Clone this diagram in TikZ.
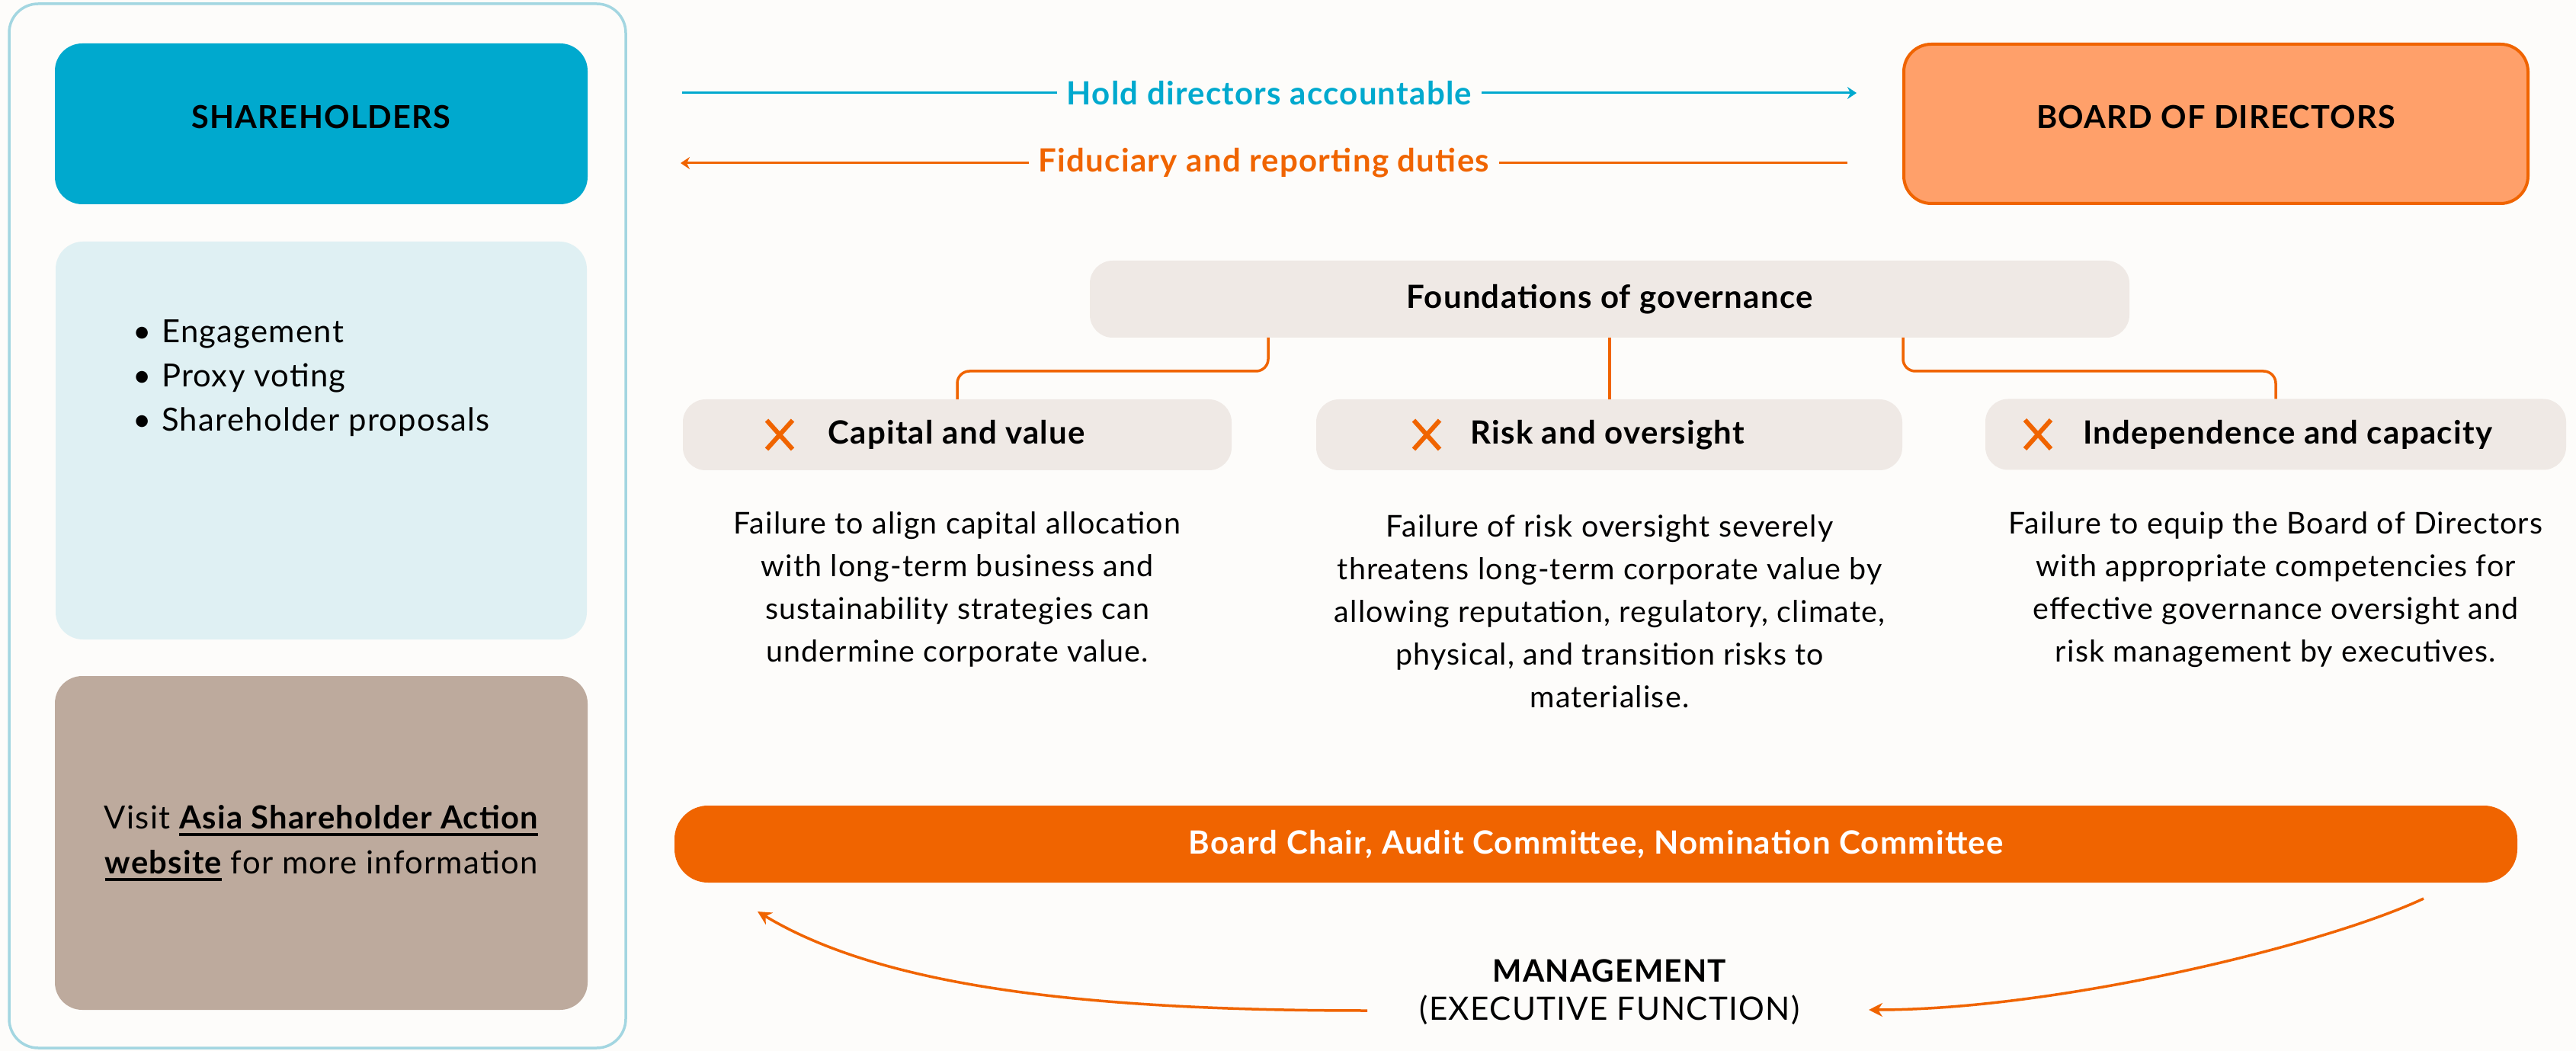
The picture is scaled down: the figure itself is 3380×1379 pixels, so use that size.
\documentclass[tikz,border=0pt]{standalone}
\usepackage{fontspec}
\setmainfont{Lato}[LetterSpace=3]
\usetikzlibrary{arrows.meta,calc}

\definecolor{bgc}{HTML}{FDFCFA}
\definecolor{ashblue}{HTML}{00A9CE}
\definecolor{ashorange}{HTML}{F06400}
\definecolor{boardfill}{HTML}{FFA06A}
\definecolor{beige}{HTML}{EFE9E5}
\definecolor{paleblue}{HTML}{DFF0F3}
\definecolor{taupe}{HTML}{BDAA9D}
\definecolor{framec}{HTML}{A3D6E1}

% thick underline for the link text
\newcommand\thickul[1]{\setbox0\hbox{#1}\rlap{\rule[-4.5pt]{\wd0}{1.6pt}}\box0\relax}

\begin{document}
\begin{tikzpicture}[x=0.5pt,y=-0.5pt,
  sized/.style 2 args={minimum width={#1*0.5pt}, minimum height={#2*0.5pt}},
  panel/.style={rounded corners=18pt, inner sep=0pt, outer sep=0pt},
  pill/.style={rounded corners=15pt, inner sep=0pt, outer sep=0pt, fill=beige},
  headtext/.style={font=\fontsize{20.75pt}{24pt}\selectfont\bfseries, text depth=9pt},
  titletext/.style={font=\fontsize{21pt}{25pt}\selectfont\bfseries, inner sep=0pt},
  bodytext/.style={font=\fontsize{19.7pt}{28pt}\selectfont, align=center, inner sep=0pt},
  toparrow/.style={line width=1.5pt, -{Stealth[length=6pt,width=8pt]}},
  conn/.style={draw=ashorange, line width=1.75pt, rounded corners=8pt},
  curvearrow/.style={draw=ashorange, line width=1.75pt, -{Stealth[length=9pt,width=9pt]}},
  xmark/.style={draw=ashorange, line width=3pt},
]
% page
\fill[bgc] (0,0) rectangle (3380,1379);
\useasboundingbox (0,0) rectangle (3380,1379);

% shareholder column
\node[draw=framec, line width=1.75pt, rounded corners=19pt, sized={809}{1370}] (frame) at (416.5,690) {};
\node[panel, fill=ashblue, sized={699}{211}, headtext] (sh) at (421.5,162.5) {SHAREHOLDERS};
\node[panel, fill=paleblue, sized={697}{522}] (tools) at (421.5,578) {};
\node[anchor=west, inner sep=0pt, align=left, font=\fontsize{20.9pt}{29pt}\selectfont] (toollist) at (174,496)
  {\makebox[19pt][l]{\textbullet}Engagement\\
   \makebox[19pt][l]{\textbullet}Proxy voting\\
   \makebox[19pt][l]{\textbullet}Shareholder proposals};
\node[panel, fill=taupe, sized={699}{438}] (visit) at (421.5,1106) {};
\node[bodytext, font=\fontsize{20.9pt}{29.5pt}\selectfont] (visittext) at (421.5,1106)
  {Visit \thickul{\bfseries Asia Shareholder Action}\\
   \thickul{\bfseries website} for more information};

% board of directors
\node[panel, fill=boardfill, draw=ashorange, line width=2pt, sized={819}{209}, headtext] (bod) at (2907.5,162.5) {BOARD OF DIRECTORS};

% relationship arrows
\coordinate (accS) at (895,122);
\coordinate (accE) at (2436,122);
\draw[toparrow, draw=ashblue, fill=ashblue] (accS) -- node[fill=bgc, text=ashblue, titletext, inner xsep=6.5pt, inner ysep=2pt] (acclabel) {Hold directors accountable} (accE);
\coordinate (dutS) at (2424,214);
\coordinate (dutE) at (893,214);
\draw[toparrow, draw=ashorange, fill=ashorange] (dutS) -- node[fill=bgc, text=ashorange, titletext, inner xsep=6.5pt, inner ysep=2pt] (dutlabel) {Fiduciary and reporting duties} (dutE);

% foundations of governance
\node[pill, sized={1364}{101}, titletext] (found) at (2112,392.5) {Foundations of governance};
\node[pill, sized={720}{93}] (cap) at (1256,570.5) {};
\node[pill, sized={769}{93}] (risk) at (2111.5,570.5) {};
\node[pill, sized={762}{93}] (ind) at (2986,570) {};

\draw[conn] ($(found.south)+(-448,0)$) -- ++(0,44) -| (cap.north);
\draw[conn] (found.south) -- (found.south |- risk.north);
\draw[conn] ($(found.south)+(385,0)$) -- ++(0,44) -| (ind.north);

% pillar titles with cross marks
\draw[xmark] ($(cap.west)+(127,0)$) +(-17,-19) -- +(17,19) +(-17,19) -- +(17,-19);
\node[titletext, anchor=west] (captitle) at ($(cap.west)+(190,0)$) {Capital and value};
\draw[xmark] ($(risk.west)+(145,0)$) +(-17,-19) -- +(17,19) +(-17,19) -- +(17,-19);
\node[titletext, anchor=west] (risktitle) at ($(risk.west)+(202,0)$) {Risk and oversight};
\draw[xmark] ($(ind.west)+(69,0)$) +(-17,-19) -- +(17,19) +(-17,19) -- +(17,-19);
\node[titletext, anchor=west] (indtitle) at ($(ind.west)+(128,0)$) {Independence and capacity};

% pillar descriptions
\node[bodytext] (capdesc) at (1256,773)
  {Failure to align capital allocation\\with long-term business and\\sustainability strategies can\\undermine corporate value.};
\node[bodytext] (riskdesc) at (2112,802)
  {Failure of risk oversight severely\\threatens long-term corporate value by\\allowing reputation, regulatory, climate,\\physical, and transition risks to\\materialise.};
\node[bodytext] (inddesc) at (2986,774)
  {Failure to equip the Board of Directors\\with appropriate competencies for\\effective governance oversight and\\risk management by executives.};

% committees and management
\node[panel, rounded corners=22pt, fill=ashorange, sized={2418}{101}, titletext, text=white] (bar) at (2094,1107.5)
  {Board Chair, Audit Committee, Nomination Committee};
\node[align=center, inner sep=0pt, font=\fontsize{21.1pt}{25pt}\selectfont] (mgmt) at (2112,1302)
  {{\fontsize{20.3pt}{25pt}\selectfont\bfseries MANAGEMENT}\\(EXECUTIVE FUNCTION)};

\coordinate (upS) at (1794,1326);
\coordinate (upE) at (994,1196);
\draw[curvearrow] (upS) .. controls (1400,1326) and (1150,1290) .. (upE);
\coordinate (dnS) at (3180,1179);
\coordinate (dnE) at (2452,1325);
\draw[curvearrow] (dnS) .. controls (3050,1240) and (2700,1325) .. (dnE);
\end{tikzpicture}
\end{document}
